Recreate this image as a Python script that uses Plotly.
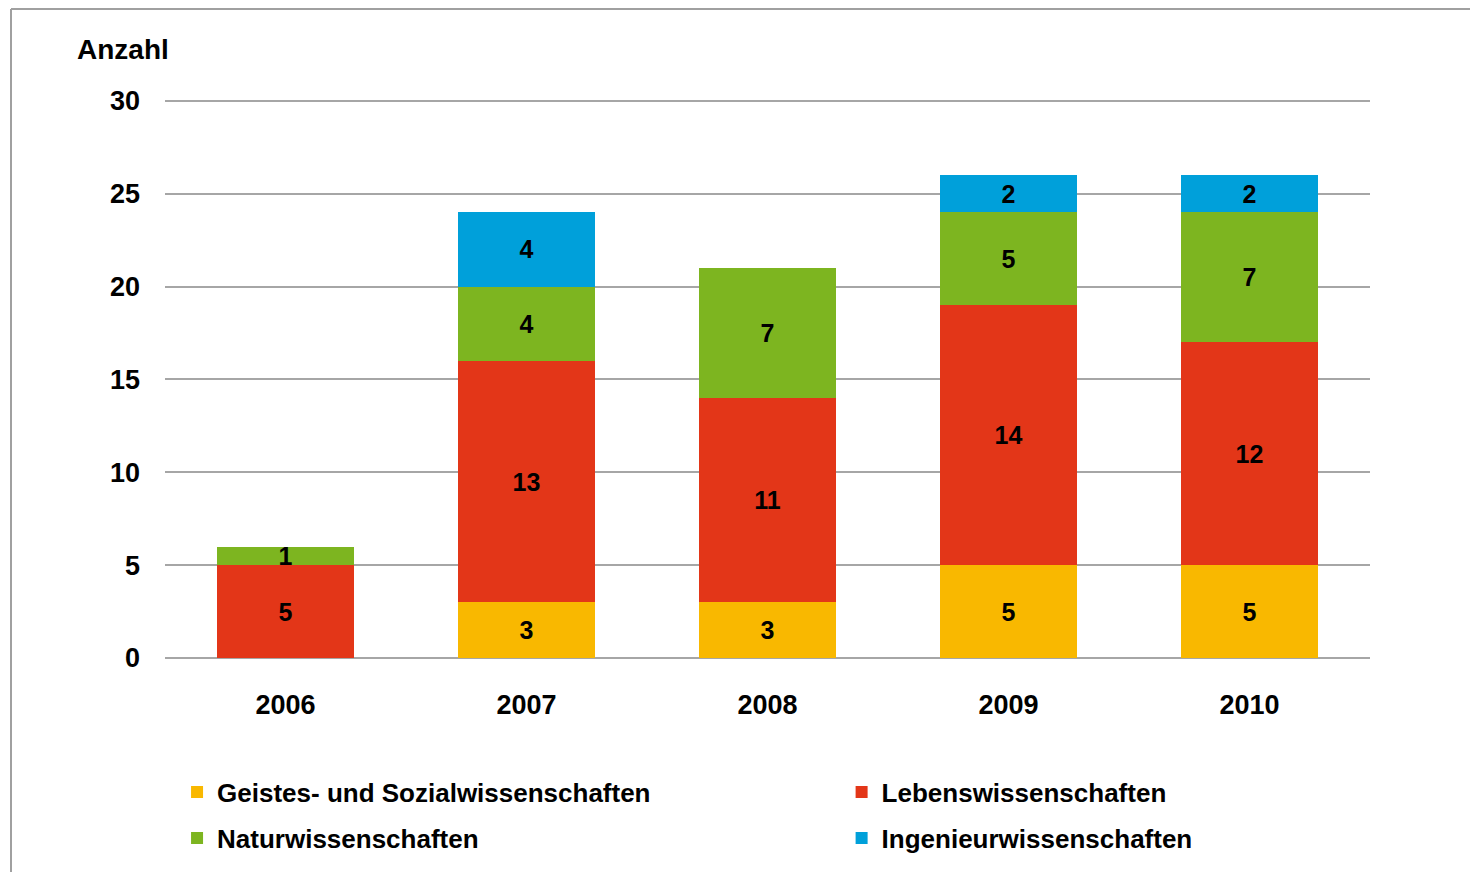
import plotly.graph_objects as go

years = ["2006", "2007", "2008", "2009", "2010"]
series_names = ["Geistes- und Sozialwissenschaften", "Lebenswissenschaften",
                "Naturwissenschaften", "Ingenieurwissenschaften"]
geistes = [0, 3, 3, 5, 5]
lebens = [5, 13, 11, 14, 12]
natur = [1, 4, 7, 5, 7]
ingenieur = [0, 4, 0, 2, 2]
colors = ["#F9B800", "#E33618", "#7DB520", "#00A0DA"]
y_ticks = [0, 5, 10, 15, 20, 25, 30]

FONT = "Liberation Sans, Arial, sans-serif"
values = [geistes, lebens, natur, ingenieur]
legend_ids = ["legend", "legend2", "legend3", "legend4"]

fig = go.Figure()
for name, vals, col, lg in zip(series_names, values, colors, legend_ids):
    fig.add_trace(go.Bar(
        x=years, y=vals, name=name,
        marker=dict(color=col, line=dict(width=0)),
        text=[str(v) if v else "" for v in vals],
        textposition="inside", insidetextanchor="middle",
        textangle=0, constraintext="none",
        textfont=dict(family=FONT, size=25, color="black", weight="bold"),
        legend=lg,
    ))

leg_font = dict(family=FONT, size=26, color="black", weight="bold")
leg_pos = {"legend": (0.01, -0.2397), "legend2": (0.5615, -0.2397),
           "legend3": (0.01, -0.3220), "legend4": (0.5615, -0.3220)}
leg_layout = {k: dict(orientation="h", x=v[0], xanchor="left", y=v[1], yanchor="middle",
                      font=leg_font, bgcolor="rgba(0,0,0,0)")
              for k, v in leg_pos.items()}

fig.update_layout(
    barmode="stack", bargap=0.43,
    width=1478, height=872,
    margin=dict(l=157, r=116, t=91, b=222, autoexpand=False),
    paper_bgcolor="white", plot_bgcolor="white",
    font=dict(family=FONT, size=25, color="black", weight="bold"),
    showlegend=True,
    xaxis=dict(showgrid=False, showline=False, ticks="", ticklabelstandoff=28,
               tickfont=dict(family=FONT, size=27, color="black", weight="bold")),
    yaxis=dict(range=[0, 30.1], tickvals=y_ticks, showgrid=True, gridcolor="#A6A6A6",
               gridwidth=2, zeroline=True, zerolinecolor="#A6A6A6", zerolinewidth=2,
               showline=False, ticks="", ticklabelstandoff=24,
               tickfont=dict(family=FONT, size=27, color="black", weight="bold")),
    annotations=[dict(text="Anzahl", xref="paper", yref="paper", x=-0.0747, y=1.0877,
                      xanchor="left", yanchor="middle", showarrow=False,
                      font=dict(family=FONT, size=28, color="black", weight="bold"))],
    shapes=[
        dict(type="line", xref="paper", yref="paper", x0=-0.1278, x1=1.2, y0=1.161, y1=1.161,
             line=dict(color="#A0A0A0", width=2)),
        dict(type="line", xref="paper", yref="paper", x0=-0.1278, x1=-0.1278, y0=1.161, y1=-0.45,
             line=dict(color="#A0A0A0", width=2)),
    ],
    **leg_layout,
)

fig.write_html("out.html")
